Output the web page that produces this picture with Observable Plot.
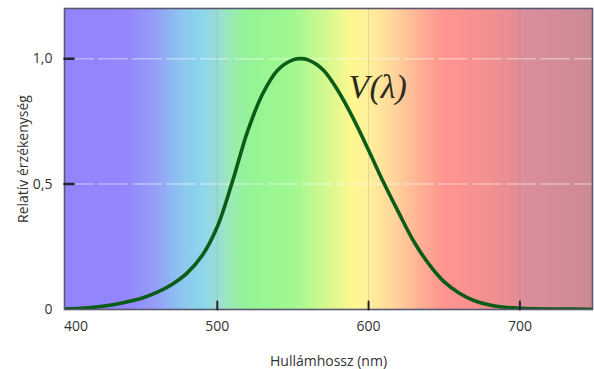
<!DOCTYPE html>
<html>
<head>
<meta charset="utf-8">
<script src="https://cdn.jsdelivr.net/npm/d3@7"></script>
<script src="https://cdn.jsdelivr.net/npm/@observablehq/plot@0.6"></script>
<style>
  html, body { margin: 0; padding: 0; background: #fff; }
  #chart svg { display: block; }
</style>
</head>
<body>
<div id="chart"></div>
<script>
// Data
const wavelength = [400,410,420,430,440,450,460,470,480,490,500,510,520,530,540,550,555,560,570,580,590,600,610,620,630,640,650,660,670,680,690,700,720,750];
const sensitivity = [0.003,0.005,0.01,0.018,0.03,0.045,0.068,0.1,0.145,0.215,0.33,0.51,0.71,0.86,0.955,0.995,1.0,0.995,0.955,0.87,0.76,0.635,0.505,0.385,0.27,0.18,0.11,0.065,0.035,0.018,0.009,0.005,0.002,0.001];
const xTicks = [400, 500, 600, 700];
const yTicks = [0, 0.5, 1.0];
const yTickLabels = ["0", "0,5", "1,0"];
const curveLabel = [{x: 606, y: 0.885, text: "V(λ)"}];

const data = wavelength.map((w, i) => ({w, v: sensitivity[i]}));
const yTickData = yTicks.slice(1).map(v => ({v}));
const xTickData = xTicks.slice(1).map(w => ({w}));

// spectrum background style (colour stops by wavelength)
const spectrumStops = [
  [399, "#9284fb"], [440, "#9486fc"], [460, "#94a0f8"], [475, "#8cc4f0"],
  [490, "#8cd6ec"], [500, "#9cdcd8"], [510, "#98ecb0"], [522, "#94f494"],
  [550, "#a0f890"], [572, "#d4f890"], [588, "#fcf890"], [600, "#fff09a"],
  [615, "#ffd89c"], [632, "#ffb494"], [650, "#ff9490"], [680, "#f29090"],
  [698, "#e48c94"], [702, "#dc8e9c"], [748, "#cc8a94"]
];

const fontFamily = "'Open Sans', 'Noto Sans', sans-serif";
const W = 594, H = 369, ML = 64, MR = 2, MT = 8, MB = 60;
const xDomain = [399, 748], yDomain = [0, 1.2];
const tickLen = 9;
const tickColor = "#23232e";

const chart = Plot.plot({
  width: W,
  height: H,
  marginLeft: ML,
  marginRight: MR,
  marginTop: MT,
  marginBottom: MB,
  style: {fontFamily, fontSize: "14px", color: "#333", background: "#fff"},
  x: {domain: xDomain},
  y: {domain: yDomain},
  marks: [
    Plot.frame({fill: "url(#spectrumGrad)", stroke: null}),
    Plot.ruleY([0.5, 1.0], {stroke: "#ffffff", strokeOpacity: 0.4, strokeWidth: 1.5, strokeDasharray: "30,4"}),
    Plot.ruleX([500, 600, 700], {stroke: "#777", strokeOpacity: 0.22}),
    Plot.line(data, {x: "w", y: "v", stroke: "#0c5c18", strokeWidth: 3.6, curve: "catmull-rom", clip: true}),
    Plot.text(curveLabel, {x: "x", y: "y", text: "text", fontFamily: "'Liberation Serif', 'DejaVu Serif', serif", fontStyle: "italic", fontSize: 34, fill: "#2c2c20"}),
    Plot.frame({stroke: "#585870", strokeWidth: 1.6}),
    // inward tick marks (vectors anchored on the frame edge)
    Plot.vector(yTickData, {x: () => xDomain[0], y: "v", rotate: 90, length: tickLen, anchor: "start", shape: "spike", r: 0, stroke: tickColor, strokeWidth: 2.5}),
    Plot.vector(xTickData, {x: "w", y: () => yDomain[0], rotate: 0, length: tickLen - 1, anchor: "start", shape: "spike", r: 0, stroke: tickColor, strokeWidth: 2}),
    Plot.axisY(yTicks, {
      tickSize: 0, tickPadding: 12,
      tickFormat: d => yTickLabels[yTicks.indexOf(d)],
      fontSize: 14, fill: "#333",
      label: "Relatív érzékenység", labelAnchor: "center", labelOffset: 46, labelArrow: "none"
    }),
    Plot.axisX(xTicks.slice(1), {
      tickSize: 0, tickPadding: 12, fontSize: 14, fill: "#333",
      label: "Hullámhossz (nm)", labelAnchor: "center", labelOffset: 56, labelArrow: "none"
    }),
    Plot.axisX(xTicks.slice(0, 1), {
      tickSize: 0, tickPadding: 12, dx: 10, fontSize: 14, fill: "#333", label: null
    })
  ]
});

// gradient definition mapped through the x scale
const xs = chart.scale("x");
const svg = d3.select(chart);
const grad = svg.insert("defs", ":first-child")
  .append("linearGradient")
  .attr("id", "spectrumGrad")
  .attr("gradientUnits", "userSpaceOnUse")
  .attr("x1", xs.apply(xDomain[0])).attr("x2", xs.apply(xDomain[1]))
  .attr("y1", 0).attr("y2", 0);
spectrumStops.forEach(([nm, c]) => {
  grad.append("stop")
    .attr("offset", (nm - xDomain[0]) / (xDomain[1] - xDomain[0]))
    .attr("stop-color", c);
});

document.getElementById("chart").appendChild(chart);
</script>
</body>
</html>
